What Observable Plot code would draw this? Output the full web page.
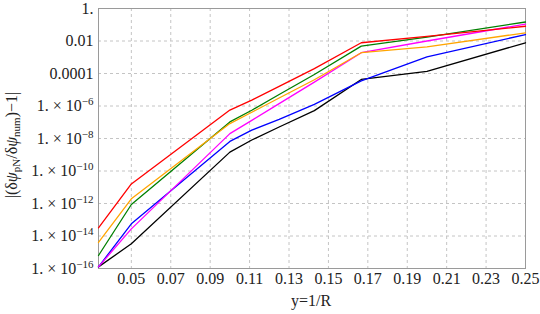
<!DOCTYPE html>
<html><head><meta charset="utf-8">
<script src="https://cdn.jsdelivr.net/npm/d3@7"></script>
<script src="https://cdn.jsdelivr.net/npm/@observablehq/plot@0.6"></script>
<style>body{margin:0;background:#fff}</style>
</head><body><div id="chart"></div>
<script>
// x = 1/R for R = 30, 20, 10, 9, 8, 7, 6, 5, 4
const xValues = [1/30, 1/20, 1/10, 1/9, 1/8, 1/7, 1/6, 1/5, 1/4];

const blackValues   = [1.26e-16, 3.3e-15, 1.45e-9, 8.1e-9, 5.1e-8, 5.2e-7, 4.3e-5, 1.35e-4, 7.8e-3];
const blueValues    = [1.26e-16, 5.6e-14, 6.6e-9, 3.3e-8, 1.5e-7, 1.26e-6, 3.5e-5, 1.05e-3, 2.5e-2];
const magentaValues = [1.26e-16, 2.75e-14, 2.0e-8, 1.3e-7, 1.4e-6, 2.95e-5, 1.9e-3, 1.0e-2, 0.11];
const greenValues   = [6.3e-16, 8.7e-13, 1.05e-7, 5.5e-7, 5.1e-6, 8.7e-5, 4.8e-3, 1.74e-2, 0.148];
const orangeValues  = [4.0e-15, 1.95e-12, 8.3e-8, 4.1e-7, 3.1e-6, 4.1e-5, 1.9e-3, 4.3e-3, 3.2e-2];
const redValues     = [3.2e-14, 1.6e-11, 5.6e-7, 2.3e-6, 1.6e-5, 2.0e-4, 7.8e-3, 1.9e-2, 8.1e-2];

const seriesNames  = ["black", "blue", "magenta", "green", "orange", "red"];
const seriesValues = [blackValues, blueValues, magentaValues, greenValues, orangeValues, redValues];
const seriesColors = ["#000000", "#0000ff", "#ff00ff", "#62b010", "#ff8000", "#ff0000"];

const xTicks = [0.05, 0.07, 0.09, 0.11, 0.13, 0.15, 0.17, 0.19, 0.21, 0.23, 0.25];
const xTickLabels = ["0.05", "0.07", "0.09", "0.11", "0.13", "0.15", "0.17", "0.19", "0.21", "0.23", "0.25"];
const yTicks = [1e-16, 1e-14, 1e-12, 1e-10, 1e-8, 1e-6, 1e-4, 1e-2, 1];
const yTickBase = ["1. \u00d7 10", "1. \u00d7 10", "1. \u00d7 10", "1. \u00d7 10", "1. \u00d7 10", "1. \u00d7 10", "0.0001", "0.01", "1."];
const yTickExp  = ["\u221216", "\u221214", "\u221212", "\u221210", "\u22128", "\u22126", "", "", ""];

const rows = [];
seriesNames.forEach((s, i) => xValues.forEach((x, j) => rows.push({s, x, v: seriesValues[i][j]})));

const yTickRows = yTicks.map((v, i) => ({v, base: yTickBase[i], exp: yTickExp[i]}));
const xTickRows = xTicks.map((v, i) => ({v, label: xTickLabels[i]}));

const grid = {stroke: "#c4c4c4", strokeOpacity: 1, strokeDasharray: "3,3", strokeWidth: 1};
const FS = 16;

const svg = Plot.plot({
  width: 540, height: 314,
  marginLeft: 98, marginRight: 15, marginTop: 8, marginBottom: 46,
  style: {fontFamily: "Liberation Serif", fontSize: FS + "px", background: "white", color: "#222"},
  x: {domain: [1/30, 0.25], label: null, axis: null},
  y: {type: "log", domain: [1e-16, 1], label: null, axis: null},
  color: {domain: seriesNames, range: seriesColors},
  marks: [
    Plot.gridX(xTicks, grid),
    Plot.gridY(yTicks, grid),
    Plot.frame({stroke: "#9a9a9a"}),
    Plot.text(xTickRows, {x: "v", frameAnchor: "bottom", text: "label", dy: 15, fontSize: FS, fill: "#222"}),
    Plot.text(yTickRows, {y: "v", frameAnchor: "left", text: "base", dx: -5, textAnchor: "end", fontSize: FS, fill: "#222", className: "ytick"}),
    Plot.line(rows, {x: "x", y: "v", z: "s", stroke: "s", strokeWidth: 1.3})
  ]
});
document.getElementById("chart").appendChild(svg);

// superscript exponents on y tick labels
const ylabels = svg.querySelectorAll('g.ytick text');
ylabels.forEach((t, i) => {
  if (yTickExp[i]) {
    const ts = document.createElementNS("http://www.w3.org/2000/svg", "tspan");
    ts.setAttribute("dy", "-6");
    ts.setAttribute("font-size", "11");
    ts.textContent = yTickExp[i];
    t.appendChild(ts);
  }
});

const s = d3.select(svg);
// x axis label
s.append("text").attr("x", 311).attr("y", 306).attr("text-anchor", "middle")
  .style("font-family", "Liberation Serif").style("font-size", FS + "px").attr("fill", "#222").text("y=1/R");

// y axis label
const t = s.append("text").attr("transform", "translate(17,145) rotate(-90)").attr("text-anchor", "middle")
  .style("font-family", "Liberation Serif").style("font-size", FS + "px").attr("fill", "#222");
t.append("tspan").text("|(\u03b4");
t.append("tspan").style("font-style", "italic").text("\u03c8");
t.append("tspan").attr("dy", 3).style("font-size", "11px").text("pN");
t.append("tspan").attr("dy", -3).text("/\u03b4");
t.append("tspan").style("font-style", "italic").text("\u03c8");
t.append("tspan").attr("dy", 3).style("font-size", "11px").text("num");
t.append("tspan").attr("dy", -3).text(")\u22121|");
</script>
</body></html>
